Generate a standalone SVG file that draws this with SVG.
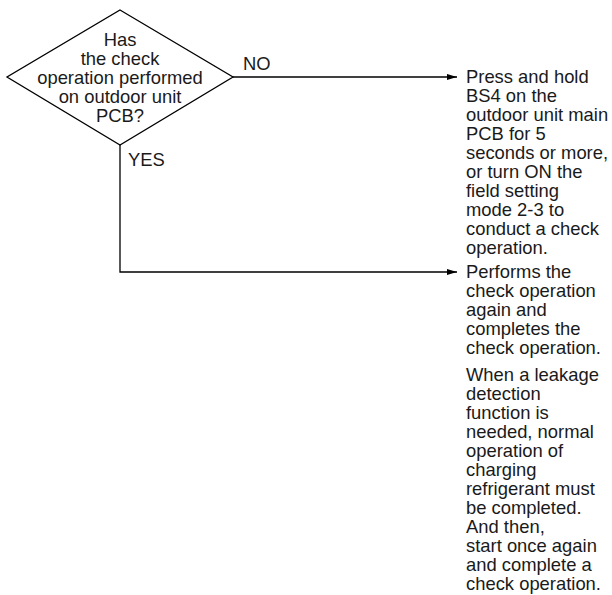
<svg xmlns="http://www.w3.org/2000/svg" width="612" height="595" viewBox="0 0 612 595">
<style>
.t{font-family:"Liberation Sans",Arial,Helvetica,sans-serif;font-size:18.4px;fill:#1a1a1a}
.c{text-anchor:middle}
.ln{fill:none;stroke:#000;stroke-width:1.3}
</style>
<defs>
<marker id="ah" markerWidth="11" markerHeight="8" refX="10" refY="4" orient="auto" markerUnits="userSpaceOnUse">
<path d="M0,1 L10,4 L0,7 Z" fill="#000"/>
</marker>
</defs>
<rect width="612" height="595" fill="#fff"/>
<g id="decision">
<polygon class="ln" points="120,10 233,77 120,145 7,77"/>
<text class="t c" x="120" y="45.5">Has</text>
<text class="t c" x="120" y="64.5">the check</text>
<text class="t c" x="120" y="83.5">operation performed</text>
<text class="t c" x="120" y="102.5">on outdoor unit</text>
<text class="t c" x="120" y="121.5">PCB?</text>
</g>
<g id="connectors">
<path class="ln" d="M233,77 H457" marker-end="url(#ah)"/>
<path class="ln" d="M120,145 V272 H457" marker-end="url(#ah)"/>
<text class="t" x="243" y="70">NO</text>
<text class="t" x="128" y="166">YES</text>
</g>
<g id="action-no">
<text class="t" x="466" y="83">Press and hold</text>
<text class="t" x="466" y="102">BS4 on the</text>
<text class="t" x="466" y="121">outdoor unit main</text>
<text class="t" x="466" y="140">PCB for 5</text>
<text class="t" x="466" y="159">seconds or more,</text>
<text class="t" x="466" y="178">or turn ON the</text>
<text class="t" x="466" y="197">field setting</text>
<text class="t" x="466" y="216">mode 2-3 to</text>
<text class="t" x="466" y="235">conduct a check</text>
<text class="t" x="466" y="254">operation.</text>
</g>
<g id="action-yes">
<text class="t" x="466" y="278">Performs the</text>
<text class="t" x="466" y="297">check operation</text>
<text class="t" x="466" y="316">again and</text>
<text class="t" x="466" y="335">completes the</text>
<text class="t" x="466" y="354">check operation.</text>
</g>
<g id="note">
<text class="t" x="466" y="381">When a leakage</text>
<text class="t" x="466" y="400">detection</text>
<text class="t" x="466" y="419">function is</text>
<text class="t" x="466" y="438">needed, normal</text>
<text class="t" x="466" y="457">operation of</text>
<text class="t" x="466" y="476">charging</text>
<text class="t" x="466" y="495">refrigerant must</text>
<text class="t" x="466" y="514">be completed.</text>
<text class="t" x="466" y="533">And then,</text>
<text class="t" x="466" y="552">start once again</text>
<text class="t" x="466" y="571">and complete a</text>
<text class="t" x="466" y="590">check operation.</text>
</g>
</svg>
